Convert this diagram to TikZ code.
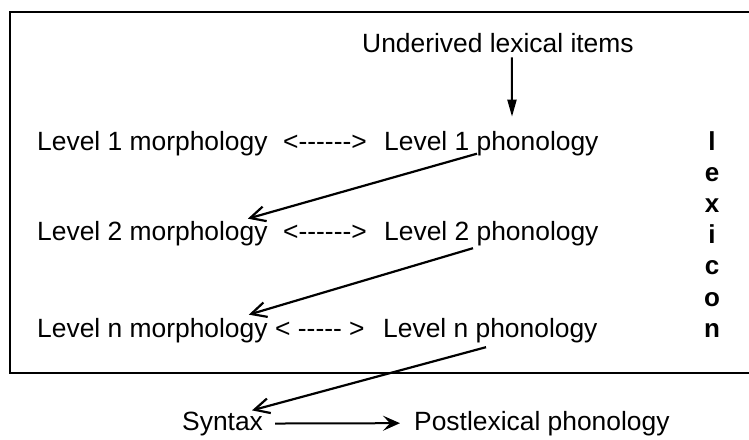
\documentclass[tikz,border=0pt]{standalone}
\usepackage{fontspec}
\setmainfont{Liberation Sans}
\usetikzlibrary{arrows.meta}
\newcommand\hy{\mbox{-}}
\tikzset{
  lbl/.style={inner sep=0pt, anchor=base west, font=\fontsize{26.4}{30}\selectfont},
  lex/.style={inner sep=0pt, anchor=base, font=\fontsize{26}{30}\selectfont\bfseries},
  barb/.style={line width=2.2pt, -{Straight Barb[length=15pt,width=15pt,line width=2.2pt]}},
  downarrow/.style={line width=2pt, -{Triangle[length=17pt,width=9pt]}},
  rightarrow/.style={line width=2pt, -{Stealth[length=17pt,width=15pt,inset=7pt]}},
  frame/.style={line width=2.6pt}
}
\begin{document}
\begin{tikzpicture}[x=1pt,y=-1pt]
\useasboundingbox (0,0) rectangle (749,439);
\draw[frame] (760,12) -- (10,12) -- (10,373) -- (760,373);

\node[lbl] (und) at (362,52) {Underived lexical items};

\node[lbl] (m1) at (37,150) {Level 1 morphology};
\node[lbl] (d1) at (283,150) {<\hy\hy\hy\hy\hy\hy>};
\node[lbl] (p1) at (384,150) {Level 1 phonology};

\node[lbl] (m2) at (37,240) {Level 2 morphology};
\node[lbl] (d2) at (283,240) {<\hy\hy\hy\hy\hy\hy>};
\node[lbl] (p2) at (384,240) {Level 2 phonology};

\node[lbl] (m3) at (37,337) {Level n morphology};
\node[lbl] (d3) at (275,337) {< \hy\hy\hy\hy\hy{} >};
\node[lbl] (p3) at (383,337) {Level n phonology};

\node[lbl] (syn) at (182,430) {Syntax};
\node[lbl] (post) at (414,430) {Postlexical phonology};

\foreach \c [count=\i from 0] in {l,e,x,i,c,o,n}
  \node[lex] (lx\i) at (712,{150+\i*31.2}) {\c};

\draw[downarrow] ([xshift=14pt,yshift=-5pt]und.south) -- ([xshift=128pt,yshift=14pt]p1.north west);
\draw[barb] ([xshift=93pt,yshift=2pt]p1.south west) -- ([xshift=-20pt,yshift=2pt]m2.north east);
\draw[barb] ([xshift=89pt,yshift=-2.5pt]p2.south west) -- ([xshift=-19pt,yshift=3pt]m3.north east);
\draw[barb] ([xshift=103pt,yshift=-4.5pt]p3.south west) -- ([xshift=70pt,yshift=1pt]syn.north west);
\draw[rightarrow] ([xshift=12pt]syn.east) -- ([xshift=-14pt]post.west);
\end{tikzpicture}
\end{document}
